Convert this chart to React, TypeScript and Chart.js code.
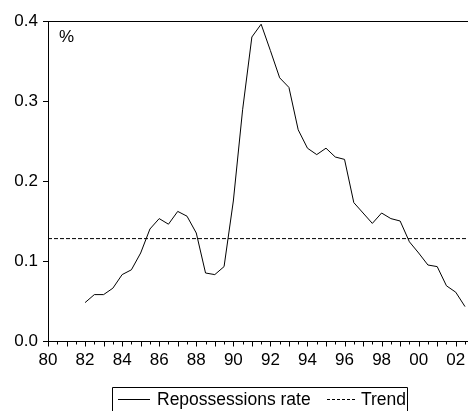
import React, { useEffect, useRef } from "react";
import { Chart, registerables } from "chart.js";

Chart.register(...registerables);

// ---- data ----
const periods = [
  82, 82.5, 83, 83.5, 84, 84.5, 85, 85.5, 86, 86.5, 87, 87.5, 88, 88.5,
  89, 89.5, 90, 90.5, 91, 91.5, 92, 92.5, 93, 93.5, 94, 94.5, 95, 95.5,
  96, 96.5, 97, 97.5, 98, 98.5, 99, 99.5, 100, 100.5, 101, 101.5, 102, 102.5,
];
const repossessionsRate = [
  0.048, 0.058, 0.058, 0.066, 0.083, 0.089, 0.110, 0.140, 0.153, 0.146, 0.162, 0.156, 0.135, 0.085,
  0.083, 0.093, 0.175, 0.289, 0.380, 0.396, 0.363, 0.329, 0.317, 0.264, 0.241, 0.233, 0.241, 0.230,
  0.227, 0.173, 0.160, 0.147, 0.160, 0.153, 0.150, 0.124, 0.110, 0.095, 0.093, 0.069, 0.061, 0.043,
];
const trendLevel = 0.128;
const xMin = 80;
const xMax = 102.66;
const yMin = 0;
const yMax = 0.4;
const xLabelYears = [80, 82, 84, 86, 88, 90, 92, 94, 96, 98, 100, 102];
const xLabels = ["80", "82", "84", "86", "88", "90", "92", "94", "96", "98", "00", "02"];
const seriesLabels = ["Repossessions rate", "Trend"];
const unitLabel = "%";

const FONT = "'Liberation Sans', Arial, Helvetica, sans-serif";
const INK = "#000000";

const decorPlugin = {
  id: "decor",
  afterDraw(chart: any) {
    const { ctx, chartArea: a, scales } = chart;
    const x = scales.x;
    ctx.save();
    ctx.strokeStyle = INK;
    ctx.lineWidth = 1;
    // top frame line
    const ty = Math.round(a.top) + 0.5;
    ctx.beginPath();
    ctx.moveTo(Math.round(a.left), ty);
    ctx.lineTo(chart.width, ty);
    ctx.stroke();
    // x tick marks: long at whole years, short at half years
    const by = Math.round(a.bottom) + 0.5;
    for (const t of x.ticks) {
      const v = t.value;
      const px = Math.round(x.getPixelForValue(v)) + 0.5;
      const len = Math.abs(v - Math.round(v)) < 1e-6 ? 5 : 3;
      ctx.beginPath();
      ctx.moveTo(px, by);
      ctx.lineTo(px, by + len);
      ctx.stroke();
    }
    // unit label
    ctx.fillStyle = INK;
    ctx.font = `17px ${FONT}`;
    ctx.textBaseline = "middle";
    ctx.textAlign = "left";
    ctx.fillText(unitLabel, a.left + 11, a.top + 16);

    // legend box
    const boxL = 112.5, boxR = 407.5, boxT = 387.5;
    ctx.beginPath();
    ctx.moveTo(boxL, chart.height + 2);
    ctx.lineTo(boxL, boxT);
    ctx.lineTo(boxR, boxT);
    ctx.lineTo(boxR, chart.height + 2);
    ctx.stroke();
    const ly = 399.5;
    ctx.font = `17.5px ${FONT}`;
    // solid sample
    ctx.beginPath();
    ctx.moveTo(118, ly);
    ctx.lineTo(150, ly);
    ctx.stroke();
    ctx.fillText(seriesLabels[0], 157, ly + 1);
    // dashed sample
    ctx.setLineDash([3, 2]);
    ctx.beginPath();
    ctx.moveTo(327, ly);
    ctx.lineTo(357, ly);
    ctx.stroke();
    ctx.setLineDash([]);
    ctx.fillText(seriesLabels[1], 361, ly + 1);
    ctx.restore();
  },
};

export default function App() {
  const ref = useRef<HTMLCanvasElement | null>(null);
  useEffect(() => {
    if (!ref.current) return;
    const chart = new Chart(ref.current, {
      type: "line",
      data: {
        datasets: [
          {
            label: seriesLabels[0],
            data: periods.map((p, i) => ({ x: p, y: repossessionsRate[i] })),
            borderColor: INK,
            borderWidth: 1,
            pointRadius: 0,
            tension: 0,
            fill: false,
          },
          {
            label: seriesLabels[1],
            data: [
              { x: xMin, y: trendLevel },
              { x: xMax, y: trendLevel },
            ],
            borderColor: INK,
            borderWidth: 1,
            borderDash: [4, 2],
            pointRadius: 0,
            fill: false,
          },
        ],
      },
      options: {
        animation: false,
        responsive: false,
        layout: { padding: { top: 21, right: 0, left: 0, bottom: 0 } },
        plugins: { legend: { display: false }, tooltip: { enabled: false } },
        scales: {
          x: {
            type: "linear",
            min: xMin,
            max: xMax,
            grid: { drawOnChartArea: false, drawTicks: true, tickLength: 6, tickColor: "rgba(0,0,0,0)" },
            border: { display: true, color: INK, width: 1 },
            ticks: {
              stepSize: 0.5,
              includeBounds: false,
              autoSkip: false,
              maxRotation: 0,
              minRotation: 0,
              padding: 3,
              color: INK,
              font: { family: FONT, size: 17 },
              callback: (v: any) => {
                const i = xLabelYears.findIndex((y) => Math.abs(y - Number(v)) < 1e-6);
                return i >= 0 ? xLabels[i] : "";
              },
            },
            afterFit: (s: any) => {
              s.height = 70;
            },
          },
          y: {
            min: yMin,
            max: yMax,
            grid: { drawOnChartArea: false, drawTicks: true, tickLength: 5, tickColor: INK },
            border: { display: true, color: INK, width: 1 },
            ticks: {
              stepSize: 0.1,
              padding: 5,
              color: INK,
              font: { family: FONT, size: 17 },
              callback: (v: any) => Number(v).toFixed(1),
            },
            afterFit: (s: any) => {
              s.width = 48;
            },
          },
        },
      },
      plugins: [decorPlugin],
    });
    return () => chart.destroy();
  }, []);
  return (
    <div style={{ position: "absolute", left: 0, top: 0, width: 468, height: 411, background: "#fff" }}>
      <canvas ref={ref} width={468} height={411} style={{ width: 468, height: 411, display: "block" }} />
    </div>
  );
}
